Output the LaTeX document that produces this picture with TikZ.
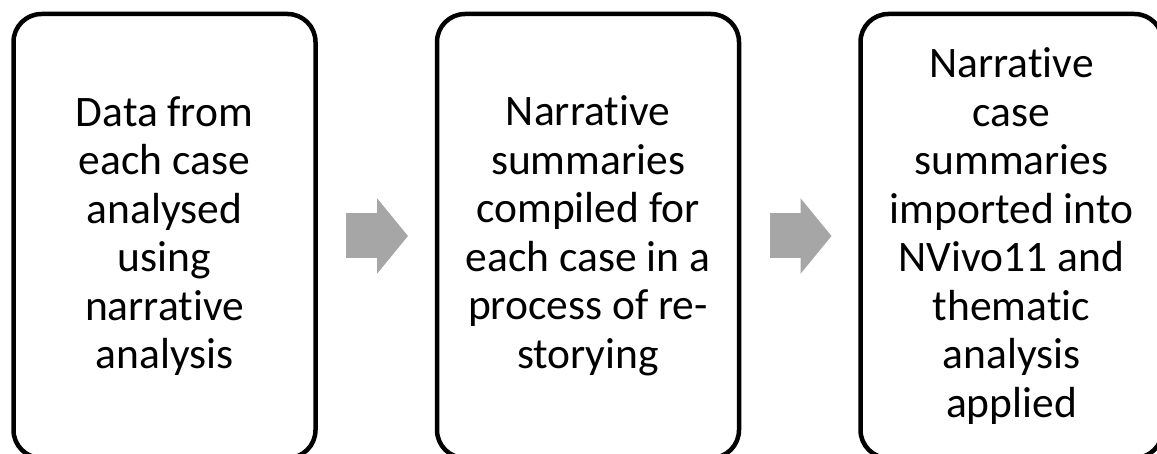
\documentclass[tikz,border=0pt]{standalone}
\usepackage{fontspec}
\setmainfont[Ligatures={NoCommon}]{Carlito}
\usepackage{tikz}
\usetikzlibrary{arrows.meta}
\definecolor{arrowgray}{rgb}{0.65,0.65,0.65}

\begin{document}
\begin{tikzpicture}[line join=round,x=1pt,y=-1pt,
  stepbox/.style={draw=black,line width=4.5pt,rounded corners=28pt,minimum width=302pt,minimum height=444pt,align=center,inner sep=0pt,font=\fontsize{43.5pt}{48.5pt}\selectfont},
  blockarrow/.style={draw=arrowgray,line width=45pt,-{Triangle[length=31pt,width=74pt]},shorten <=28.25pt,shorten >=26.75pt}]
\useasboundingbox (0,0) rectangle (1157,454);
\clip (0,0) rectangle (1157,454);
\node[stepbox] (narrative) at (164.5,236) {Data from\\each case\\analysed\\using\\narrative\\analysis};
\node[stepbox] (summaries) at (588,236) {Narrative\\summaries\\compiled for\\each case in a\\process of re-\\storying};
\node[stepbox] (thematic) at (1011.5,236) {Narrative\\case\\summaries\\imported into\\NVivo11 and\\thematic\\analysis\\applied};
\draw[blockarrow] (narrative) -- (summaries);
\draw[blockarrow] (summaries) -- (thematic);
\end{tikzpicture}
\end{document}
